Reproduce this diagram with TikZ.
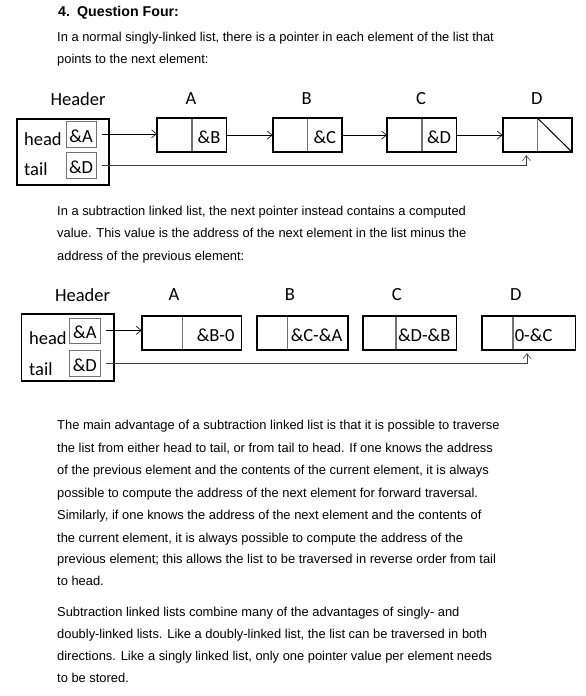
\documentclass[tikz,border=0pt]{standalone}
\usepackage{fontspec}
\setmainfont{Liberation Sans}
\newfontfamily\calibri{Carlito}
\usetikzlibrary{arrows.meta}
\usetikzlibrary{positioning}

\begin{document}
\begin{tikzpicture}[
    x=1pt, y=-1pt,
    body/.style={anchor=base west, inner sep=0pt, font=\fontsize{12.9}{15}\selectfont},
    title/.style={anchor=base west, inner sep=0pt, font=\bfseries\fontsize{14.2}{16}\selectfont},
    lbl/.style={inner sep=0pt, font=\calibri\fontsize{18.5}{20}\selectfont},
    frame/.style={draw, line width=1.7pt},
    cell/.style={draw=black!55, line width=0.7pt, inner sep=0pt, text height=17pt, text depth=0pt,
      font=\calibri\fontsize{18.5}{20}\selectfont},
    link/.style={-{Straight Barb[length=5pt, width=8pt]}, line width=0.6pt}
  ]
  \useasboundingbox[fill=white] (0,0) rectangle (586,696);

  % Titel und erster Absatz
  \node[title] (q4) at (58,16.5) {4.};
  \node[title] (q4t) at (77,16.5) {Question Four:};
  \node[body] (p1a) at (57,41) {In a normal singly-linked list, there is a pointer in each element of the list that};
  \node[body] (p1b) at (57,63.5) {points to the next element:};

  % Liste 1: Kopf
  \node[lbl] (H1l) at (78,99) {Header};
  \node[frame, minimum width=92, minimum height=66, anchor=north west] (H1) at (16,118) {};
  \node[cell, minimum width=30.5, minimum height=26, anchor=north west] (H1a) at (65.5,120.5) {\&A};
  \node[cell, minimum width=30.5, minimum height=26, anchor=north west] (H1d) at (65.5,152) {\&D};
  \node[lbl, anchor=base west] (H1h) at (24,145) {head};
  \node[lbl, anchor=base west] (H1t) at (24,175) {tail};

  % Liste 1: Elemente
  \foreach \n/\x/\v in {A/157/\&B, B/272.7/\&C, C/387/\&D, D/502.7/{}} {
    \node[cell, minimum width=34, minimum height=33.5, anchor=north west] (\n1p) at (\x,118) {};
    \node[cell, minimum width=34, minimum height=33.5, anchor=west] (\n1v) at (\n1p.east) {\v};
    \draw[frame] (\n1p.north west) rectangle (\n1v.south east);
    \node[lbl] (\n1l) at (\x+34,99) {\n};
  }
  \draw[line width=1pt] (D1v.north west) -- (D1v.south east);

  % Liste 1: Zeiger
  \draw[link, shorten <=5pt] (H1a.east) -- (H1a.east -| A1p.west);
  \draw[link] (A1v.east) -- (B1p.west);
  \draw[link] (B1v.east) -- (C1p.west);
  \draw[link] (C1v.east) -- (D1p.west);
  \draw[link, draw=black!75, shorten <=5pt, shorten >=3pt] (H1d.east) -| ([xshift=-11pt]D1p.south east);

  % Zweiter Absatz
  \node[body] (p2a) at (57,215) {In a subtraction linked list, the next pointer instead contains a computed};
  \node[body] (p2b) at (57,237.5) {value. This value is the address of the next element in the list minus the};
  \node[body] (p2c) at (57,260) {address of the previous element:};

  % Liste 2: Kopf
  \node[lbl] (H2l) at (82.5,295) {Header};
  \node[frame, minimum width=92.5, minimum height=67, anchor=north west] (H2) at (20.5,313) {};
  \node[cell, minimum width=31, minimum height=25, anchor=north west] (H2a) at (69,317.5) {\&A};
  \node[cell, minimum width=31, minimum height=26, anchor=north west] (H2d) at (69,349.5) {\&D};
  \node[lbl, anchor=base west] (H2h) at (29,344) {head};
  \node[lbl, anchor=base west] (H2t) at (29,375) {tail};

  % Liste 2: Elemente mit berechneten Werten
  \foreach \n/\x/\pw/\vw/\ind/\lx/\v in {A/141.7/40/58.3/12.5/174/\&B-0, B/256.7/30/60/1.5/290/\&C-\&A,
      C/363.3/31.7/60/0.5/396.7/\&D-\&B, D/481.7/30.6/61.7/0/515.7/0-\&C} {
    \pgfmathsetmacro{\tw}{\vw-3}
    \node[cell, minimum width=\pw, minimum height=33.5, anchor=north west] (\n2p) at (\x,316) {};
    \node[cell, minimum height=33.5, inner xsep=1.5pt, text width=\tw pt, align=left, anchor=west] (\n2v) at (\n2p.east) {\hspace*{\ind pt}\v};
    \draw[frame] (\n2p.north west) rectangle (\n2v.south east);
    \node[lbl] (\n2l) at (\lx,295) {\n};
  }

  % Liste 2: Zeiger
  \draw[link, shorten <=5pt] (H2a.east) -- (H2a.east -| A2p.west);
  \draw[link, draw=black!75, shorten <=5pt, shorten >=3pt] (H2d.east) -| ([xshift=14pt]D2v.south west);

  % Dritter Absatz
  \node[body] (p3a) at (57,429.5) {The main advantage of a subtraction linked list is that it is possible to traverse};
  \node[body] (p3b) at (57,452) {the list from either head to tail, or from tail to head. If one knows the address};
  \node[body] (p3c) at (57,474.5) {of the previous element and the contents of the current element, it is always};
  \node[body] (p3d) at (57,497) {possible to compute the address of the next element for forward traversal.};
  \node[body] (p3e) at (57,519.5) {Similarly, if one knows the address of the next element and the contents of};
  \node[body] (p3f) at (57,542) {the current element, it is always possible to compute the address of the};
  \node[body] (p3g) at (57,563) {previous element; this allows the list to be traversed in reverse order from tail};
  \node[body] (p3h) at (57,585.5) {to head.};

  % Vierter Absatz
  \node[body] (p4a) at (57,616) {Subtraction linked lists combine many of the advantages of singly- and};
  \node[body] (p4b) at (57,638) {doubly-linked lists. Like a doubly-linked list, the list can be traversed in both};
  \node[body] (p4c) at (57,660) {directions. Like a singly linked list, only one pointer value per element needs};
  \node[body] (p4d) at (57,682) {to be stored.};
\end{tikzpicture}
\end{document}
